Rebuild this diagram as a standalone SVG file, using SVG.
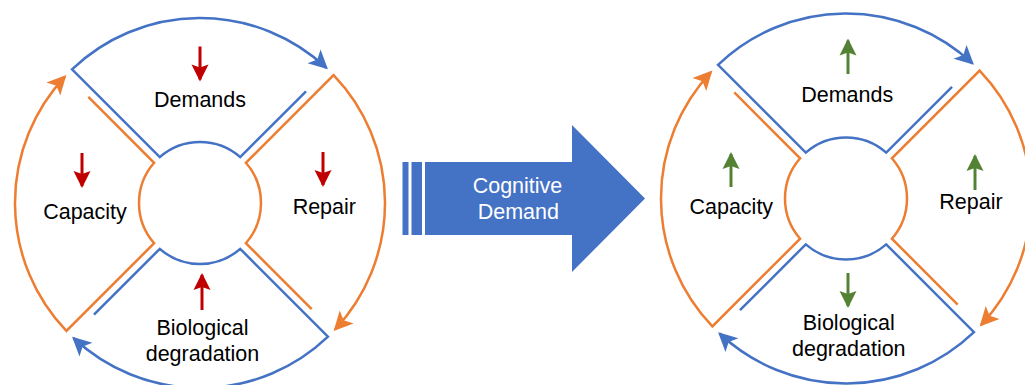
<svg xmlns="http://www.w3.org/2000/svg" width="1025" height="385" viewBox="0 0 1025 385">
<style>
  .lbl { font-family: "Liberation Sans", Arial, sans-serif; font-size: 21.5px; fill: #000; text-anchor: middle; }
  .wlbl { font-family: "Liberation Sans", Arial, sans-serif; font-size: 21.5px; fill: #fff; text-anchor: middle; }
  .blue { fill: none; stroke: #4472C4; stroke-width: 2.5; stroke-linejoin: miter; marker-end: url(#ahBlue); }
  .orange { fill: none; stroke: #ED7D31; stroke-width: 2.5; stroke-linejoin: miter; marker-end: url(#ahOrange); }
  .red { fill: none; stroke: #C00000; stroke-width: 3; marker-end: url(#ahRed); }
  .green { fill: none; stroke: #548235; stroke-width: 3; marker-end: url(#ahGreen); }
</style>
<defs>
  <marker id="ahBlue" markerUnits="userSpaceOnUse" viewBox="-20 -11 24 22" markerWidth="24" markerHeight="22" refX="0" refY="0" orient="auto" overflow="visible">
    <path d="M2,0 L-17,-9.5 L-12.5,0 L-17,9.5 Z" fill="#4472C4"/>
  </marker>
  <marker id="ahOrange" markerUnits="userSpaceOnUse" viewBox="-20 -11 24 22" markerWidth="24" markerHeight="22" refX="0" refY="0" orient="auto" overflow="visible">
    <path d="M2,0 L-17,-9.5 L-12.5,0 L-17,9.5 Z" fill="#ED7D31"/>
  </marker>
  <marker id="ahRed" markerUnits="userSpaceOnUse" viewBox="-20 -10 24 20" markerWidth="24" markerHeight="20" refX="0" refY="0" orient="auto" overflow="visible">
    <path d="M2,0 L-15,-8.5 L-12,0 L-15,8.5 Z" fill="#C00000"/>
  </marker>
  <marker id="ahGreen" markerUnits="userSpaceOnUse" viewBox="-20 -10 24 20" markerWidth="24" markerHeight="20" refX="0" refY="0" orient="auto" overflow="visible">
    <path d="M2,0 L-15,-8.5 L-12,0 L-15,8.5 Z" fill="#548235"/>
  </marker>
</defs>
<rect width="1025" height="385" fill="#fff"/>

<g id="connectors">
  <!-- left cycle -->
  <path class="blue" d="M306.03,91.31 L240.21,157.13 A61,61 0 0 0 159.79,157.13 L72.04,69.38 A185,185 0 0 1 326.46,67.97"/>
  <path class="orange" d="M311.69,309.03 L245.87,243.21 A61,61 0 0 0 245.87,162.79 L333.62,75.04 A185,185 0 0 1 335.03,329.46"/>
  <path class="blue" d="M93.97,314.69 L159.79,248.87 A61,61 0 0 0 240.21,248.87 L327.96,336.62 A185,185 0 0 1 73.54,338.03"/>
  <path class="orange" d="M88.31,96.97 L154.13,162.79 A61,61 0 0 0 154.13,243.21 L66.38,330.96 A185,185 0 0 1 64.97,76.54"/>
  <!-- right cycle -->
  <path class="blue" d="M952.03,86.81 L886.21,152.63 A61,61 0 0 0 805.79,152.63 L718.04,64.88 A185,185 0 0 1 972.46,63.47"/>
  <path class="orange" d="M957.69,304.53 L891.87,238.71 A61,61 0 0 0 891.87,158.29 L979.62,70.54 A185,185 0 0 1 981.03,324.96"/>
  <path class="blue" d="M739.97,310.19 L805.79,244.37 A61,61 0 0 0 886.21,244.37 L973.96,332.12 A185,185 0 0 1 719.54,333.53"/>
  <path class="orange" d="M734.31,92.47 L800.13,158.29 A61,61 0 0 0 800.13,238.71 L712.38,326.46 A185,185 0 0 1 710.97,72.04"/>
</g>

<!-- left diagram nodes -->
<g id="left-demands">
  <path class="red" d="M200,46.5 L200,79.5"/>
  <text class="lbl" x="200" y="107">Demands</text>
</g>
<g id="left-repair">
  <path class="red" d="M323,152 L323,185"/>
  <text class="lbl" x="324.3" y="213.5">Repair</text>
</g>
<g id="left-biological-degradation">
  <path class="red" d="M202,310 L202,275"/>
  <text class="lbl" x="202.5" y="335">Biological</text>
  <text class="lbl" x="202.5" y="361">degradation</text>
</g>
<g id="left-capacity">
  <path class="red" d="M82,153 L82,186"/>
  <text class="lbl" x="85" y="218.5">Capacity</text>
</g>

<!-- big arrow -->
<g id="cognitive-demand">
  <rect x="402.5" y="162" width="6" height="73" fill="#4472C4"/>
  <rect x="411.5" y="162" width="10.5" height="73" fill="#4472C4"/>
  <path d="M425,162 L572,162 L572,125 L645,198.5 L572,272 L572,235 L425,235 Z" fill="#4472C4"/>
  <text class="wlbl" x="517.5" y="193">Cognitive</text>
  <text class="wlbl" x="518.3" y="219">Demand</text>
</g>

<!-- right diagram nodes -->
<g id="right-demands">
  <path class="green" d="M848,74 L848,40.5"/>
  <text class="lbl" x="847.2" y="101.5">Demands</text>
</g>
<g id="right-repair">
  <path class="green" d="M975,190 L975,156"/>
  <text class="lbl" x="971" y="208.5">Repair</text>
</g>
<g id="right-biological-degradation">
  <path class="green" d="M848,273 L848,306"/>
  <text class="lbl" x="848.8" y="330">Biological</text>
  <text class="lbl" x="848.8" y="356">degradation</text>
</g>
<g id="right-capacity">
  <path class="green" d="M731,187 L731,154"/>
  <text class="lbl" x="731.3" y="213.5">Capacity</text>
</g>
</svg>
